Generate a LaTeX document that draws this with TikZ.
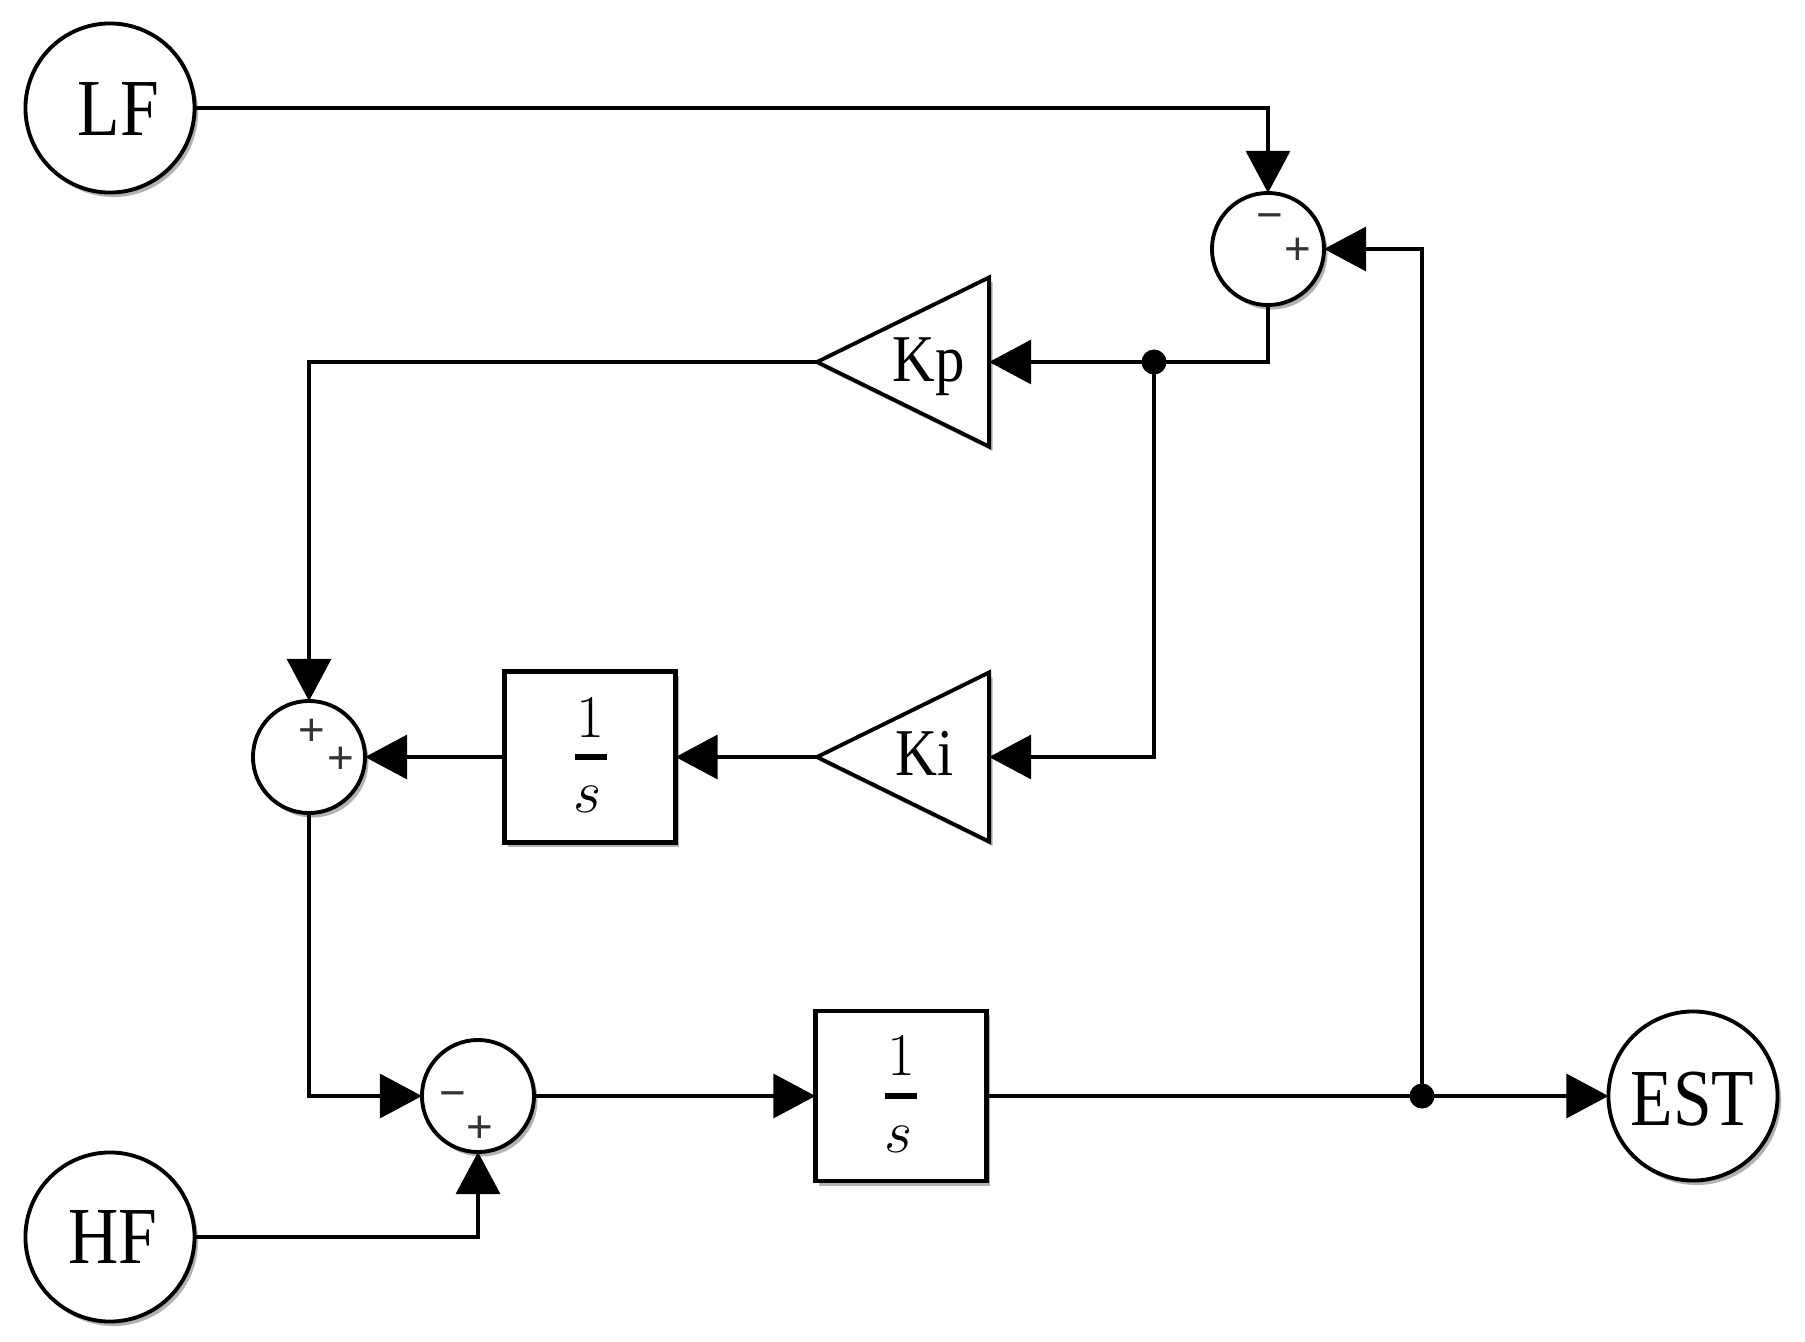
\documentclass[tikz,border=0pt]{standalone}
\usepackage{fontspec}
\usepackage{graphicx}
\setmainfont{Liberation Serif}
\newfontfamily\signfont{Liberation Sans}
\usetikzlibrary{arrows.meta,shapes.geometric,shadows}
\begin{document}
\begin{tikzpicture}[x=0.01cm,y=-0.01cm,
  shd/.style={drop shadow={shadow xshift=0.035cm,shadow yshift=-0.045cm,opacity=0.3,fill=black}},
  port/.style={circle,draw,line width=1.1pt,minimum size=1.69cm,inner sep=0,outer sep=0,fill=white,shd},
  sumnode/.style={circle,draw,line width=1.1pt,minimum size=1.12cm,inner sep=0,outer sep=0,fill=white,shd},
  intbox/.style={rectangle,draw,line width=1.3pt,minimum width=1.71cm,minimum height=1.71cm,inner sep=0,outer sep=0,fill=white,shd},
  gain/.style={isosceles triangle,isosceles triangle stretches,shape border rotate=180,draw,line width=1.1pt,minimum width=1.69cm,minimum height=1.72cm,inner sep=0,outer sep=0,fill=white,shd},
  wire/.style={line width=0.9pt},
  arr/.style={wire,-{Triangle[length=0.42cm,width=0.44cm]}},
  jdot/.style={circle,fill=black,minimum size=0.25cm,inner sep=0},
  bigtxt/.style={font=\fontsize{23}{23}\selectfont,inner sep=0,anchor=base west},
  ktxt/.style={font=\fontsize{19}{19}\selectfont,inner sep=0,anchor=base west},
  sgn/.style={font=\signfont\fontsize{13}{13}\selectfont,inner sep=0,text=black!80},
  numtxt/.style={font=\fontsize{19}{19}\selectfont,inner sep=0,anchor=base}
]
\useasboundingbox (0,0) rectangle (1805,1342);

% ports
\node[port] (lf) at (110,108) {};
\node[port] (hf) at (110,1237) {};
\node[port] (est) at (1693,1096) {};
\node[bigtxt] at (77,135) {\scalebox{0.86}[1]{LF}};
\node[bigtxt] at (68,1263) {\scalebox{0.86}[1]{HF}};
\node[bigtxt] at (1630,1125) {\scalebox{0.86}[1]{EST}};

% sums
\node[sumnode] (s1) at (1268,249) {};
\node[sumnode] (s2) at (309,757) {};
\node[sumnode] (s3) at (478,1096) {};
\node[sgn] at (1270,222) {−};
\node[sgn] at (1298,251) {+};
\node[sgn] at (312,732) {+};
\node[sgn] at (341,760) {+};
\node[sgn] at (453,1100) {−};
\node[sgn] at (480,1129) {+};

% gains
\node[gain,anchor=apex] (kp) at (817,362) {};
\node[gain,anchor=apex] (ki) at (817,757) {};
\node[ktxt] at (892,381) {\scalebox{0.88}[1]{Kp}};
\node[ktxt] at (895,775) {\scalebox{0.87}[1]{Ki}};

% integrators
\node[intbox] (b1) at (590,757) {};
\node[intbox,minimum height=1.70cm] (b2) at (901,1096) {};
\node[numtxt] at (590,737) {$1$};
\node[inner sep=0] at (591,757) {\rule{0.32cm}{1.6pt}};
\node[numtxt] at (588,812) {$s$};
\node[numtxt] at (901,1075) {$1$};
\node[inner sep=0] at (901,1096) {\rule{0.32cm}{1.6pt}};
\node[numtxt] at (899,1152) {$s$};

% junctions
\node[jdot] (d1) at (1154,362) {};
\node[jdot] (d2) at (1422,1096) {};

% connectors
\draw[arr] (lf.east) -- (s1.north |- lf.east) -- (s1.north);
\draw[arr] (d2.center) -- (d2.center |- s1.east) -- (s1.east);
\draw[wire] (s1.south) |- (d1.center);
\draw[arr] (d1.center) -- (kp.east);
\draw[arr] (d1.center) |- (ki.east);
\draw[arr] (ki.apex) -- (b1.east);
\draw[arr] (kp.apex) -| (s2.north);
\draw[arr] (b1.west) -- (s2.east);
\draw[arr] (s2.south) |- (s3.west);
\draw[arr] (hf.east) -| (s3.south);
\draw[arr] (s3.east) -- (b2.west);
\draw[wire] (b2.east) -- (d2.center);
\draw[arr] (d2.center) -- (est.west);
\end{tikzpicture}
\end{document}
